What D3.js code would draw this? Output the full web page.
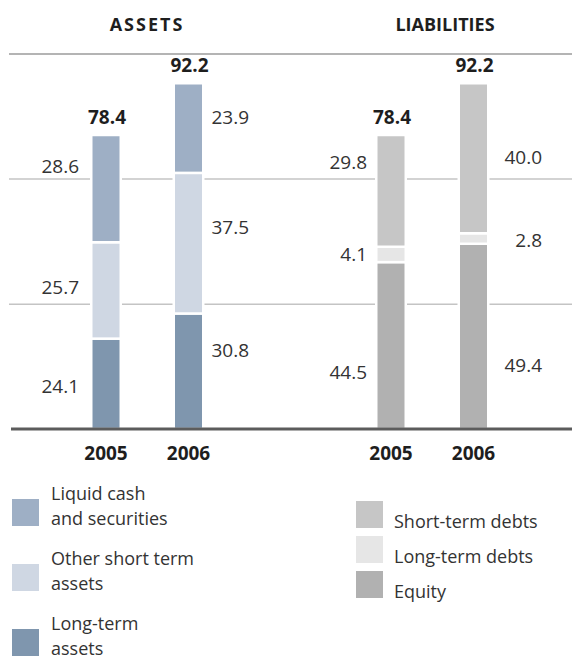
<!DOCTYPE html>
<html>
<head>
<meta charset="utf-8">
<script src="https://cdn.jsdelivr.net/npm/d3@7"></script>
<style>
  html, body { margin: 0; padding: 0; background: #fff; }
  svg { display: block; font-family: "Open Sans", "Noto Sans", sans-serif; }
</style>
</head>
<body>
<svg id="chart" width="572" height="661"></svg>
<script>
// ---- data (billions) ----
const years = ["2005", "2006"];

// assets, stacked bottom to top
const longTermAssets       = [24.1, 30.8];
const otherShortTermAssets = [25.7, 37.5];
const liquidCash           = [28.6, 23.9];

// liabilities, stacked bottom to top
const equity         = [44.5, 49.4];
const longTermDebts  = [4.1, 2.8];
const shortTermDebts = [29.8, 40.0];

const panelTitles = ["ASSETS", "LIABILITIES"];
const gridValues = [33.3, 66.7, 100];

const assetLegend = [
  ["Liquid cash", "and securities"],
  ["Other short term", "assets"],
  ["Long-term", "assets"]
];
const liabilityLegend = ["Short-term debts", "Long-term debts", "Equity"];

// ---- layout & style ----
const W = 572, H = 661;
const assetColors = ["#7f96ae", "#cfd7e3", "#9eafc5"];      // bottom -> top
const liabilityColors = ["#b1b1b1", "#e6e6e6", "#c6c6c6"];  // bottom -> top
const textColor = "#333";
const boldColor = "#1e1e1e";

const panels = [
  {
    title: panelTitles[0], titleX: 147, letterSpacing: 2,
    series: [longTermAssets, otherShortTermAssets, liquidCash],
    colors: assetColors,
    offset: 0,
    labelEnd: [79, 249],
    nudge: [[2, -3, -22], [-21, -16, -11]]
  },
  {
    title: panelTitles[1], titleX: 445, letterSpacing: 0,
    series: [equity, longTermDebts, shortTermDebts],
    colors: liabilityColors,
    offset: 285,
    labelEnd: [367, 542],
    nudge: [[27, 0, -29], [29, 1.5, -1]]
  }
];

const svg = d3.select("#chart");

const y = d3.scaleLinear().domain([0, 100]).range([429, 54]);
const xYear = d3.scalePoint().domain(years).range([106, 188.5]);
const barW = 29.5;

// grid lines
svg.append("g").selectAll("line")
  .data(gridValues)
  .join("line")
  .attr("x1", 9).attr("x2", W)
  .attr("y1", d => y(d)).attr("y2", d => y(d))
  .attr("stroke", d => d === 100 ? "#b4b4b4" : "#c4c4c4")
  .attr("stroke-width", d => d === 100 ? 2 : 1.5);

// titles
svg.append("g").selectAll("text")
  .data(panels)
  .join("text")
  .attr("x", d => d.titleX)
  .attr("y", 31)
  .attr("text-anchor", "middle")
  .attr("font-size", 18)
  .attr("font-weight", 700)
  .attr("letter-spacing", d => d.letterSpacing)
  .attr("fill", boldColor)
  .text(d => d.title);

panels.forEach(p => {
  const rows = years.map((yr, i) => {
    const r = { year: yr };
    p.series.forEach((s, k) => { r["s" + k] = s[i]; });
    return r;
  });
  const keys = p.series.map((s, k) => "s" + k);
  const stacked = d3.stack().keys(keys)(rows);

  const g = svg.append("g").attr("transform", `translate(${p.offset},0)`);

  // stacked bar segments
  stacked.forEach((layer, k) => {
    g.append("g").selectAll("rect")
      .data(layer)
      .join("rect")
      .attr("x", d => xYear(d.data.year) - barW / 2)
      .attr("width", barW)
      .attr("y", d => y(d[1]))
      .attr("height", d => y(d[0]) - y(d[1]))
      .attr("fill", p.colors[k])
      .attr("stroke", "#fff")
      .attr("stroke-width", 2.5);
  });

  // segment value labels
  stacked.forEach((layer, k) => {
    g.append("g").selectAll("text")
      .data(layer)
      .join("text")
      .attr("x", (d, i) => p.labelEnd[i] - p.offset)
      .attr("y", (d, i) => (y(d[0]) + y(d[1])) / 2 + p.nudge[i][k])
      .attr("dy", "0.36em")
      .attr("text-anchor", "end")
      .attr("font-size", 19)
      .attr("fill", textColor)
      .text(d => d3.format(".1f")(d[1] - d[0]));
  });

  // totals above bars
  const top = stacked[stacked.length - 1];
  g.append("g").selectAll("text")
    .data(top)
    .join("text")
    .attr("x", d => xYear(d.data.year) + 1)
    .attr("y", d => y(d[1]) - 11)
    .attr("text-anchor", "middle")
    .attr("font-size", 19)
    .attr("font-weight", 700)
    .attr("fill", boldColor)
    .text(d => d3.format(".1f")(d[1]));

  // year labels
  g.append("g").selectAll("text")
    .data(years)
    .join("text")
    .attr("x", d => xYear(d))
    .attr("y", 460)
    .attr("text-anchor", "middle")
    .attr("font-size", 19)
    .attr("font-weight", 700)
    .attr("fill", boldColor)
    .text(d => d);
});

// baseline
svg.append("line")
  .attr("x1", 11).attr("x2", W)
  .attr("y1", y(0)).attr("y2", y(0))
  .attr("stroke", "#5c5c5c")
  .attr("stroke-width", 3);

// asset legend
const legA = svg.append("g").selectAll("g")
  .data(assetLegend)
  .join("g")
  .attr("transform", (d, i) => `translate(12,${499 + i * 65})`);
legA.append("rect")
  .attr("width", 27).attr("height", 27)
  .attr("fill", (d, i) => assetColors[assetColors.length - 1 - i]);
legA.selectAll("text")
  .data(d => d)
  .join("text")
  .attr("x", 39)
  .attr("y", (d, j) => 1 + j * 24.5)
  .attr("font-size", 18)
  .attr("fill", textColor)
  .text(d => d);

// liability legend
const legL = svg.append("g").selectAll("g")
  .data(liabilityLegend)
  .join("g")
  .attr("transform", (d, i) => `translate(356,${501 + i * 35})`);
legL.append("rect")
  .attr("width", 27).attr("height", 27)
  .attr("fill", (d, i) => liabilityColors[liabilityColors.length - 1 - i]);
legL.append("text")
  .attr("x", 38)
  .attr("y", 27)
  .attr("font-size", 18)
  .attr("fill", textColor)
  .text(d => d);
</script>
</body>
</html>
